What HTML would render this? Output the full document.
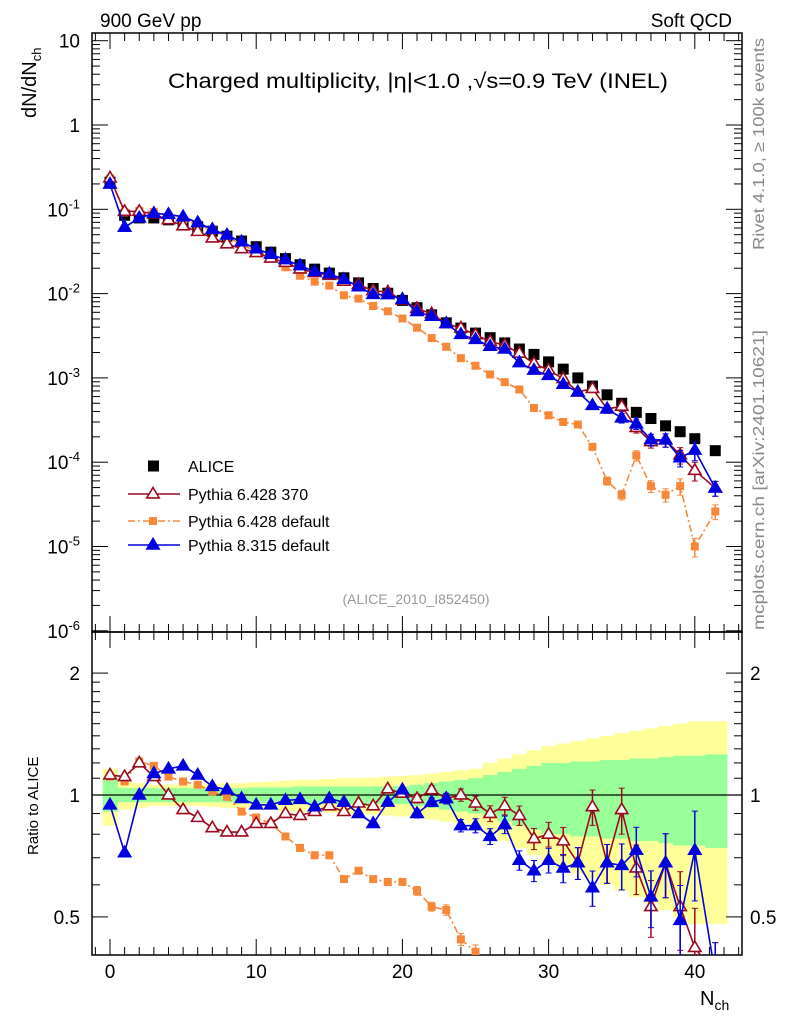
<!DOCTYPE html>
<html><head><meta charset="utf-8"><style>
html,body{margin:0;padding:0;background:#fff;width:786px;height:1024px;overflow:hidden;}
svg{display:block;font-family:"Liberation Sans",sans-serif;}
</style></head><body>
<svg id="c" width="786" height="1024" viewBox="0 0 786 1024" xmlns="http://www.w3.org/2000/svg">
<text x="100" y="27" font-size="19">900 GeV pp</text>
<text x="732" y="27" font-size="19" text-anchor="end">Soft QCD</text>
<text x="168" y="88" font-size="21" textLength="500" lengthAdjust="spacingAndGlyphs">Charged multiplicity, |η|&lt;1.0 ,√s=0.9 TeV (INEL)</text>
<text transform="translate(36,118) rotate(-90)" font-size="20">dN/dN<tspan font-size="13" dy="5">ch</tspan></text>
<text transform="translate(764,250) rotate(-90)" font-size="16" fill="#888" textLength="212" lengthAdjust="spacingAndGlyphs">Rivet 4.1.0, ≥ 100k events</text>
<text transform="translate(764,630) rotate(-90)" font-size="16" fill="#888" textLength="300" lengthAdjust="spacingAndGlyphs">mcplots.cern.ch [arXiv:2401.10621]</text>
<text x="416" y="604" font-size="14" fill="#999" text-anchor="middle">(ALICE_2010_I852450)</text>
<text transform="translate(38,855) rotate(-90)" font-size="15">Ratio to ALICE</text>
<text x="700" y="1005" font-size="20">N<tspan font-size="14" dy="5">ch</tspan></text>
<g id="g"></g>
</svg>
<script>
const nch = [0,1,2,3,4,5,6,7,8,9,10,11,12,13,14,15,16,17,18,19,20,21,22,23,24,25,26,27,28,29,30,31,32,33,34,35,36,37,38,39,40,41.4];
const alice = [0.21,0.085,0.079,0.079,0.075,0.069,0.062,0.055,0.048,0.042,0.036,0.031,0.026,0.022,0.0195,0.0175,0.0154,0.0134,0.0115,0.0101,0.0083,0.0068,0.0056,0.0045,0.0039,0.0034,0.0030,0.0026,0.0022,0.0019,0.00155,0.00127,0.0010,0.00080,0.00063,0.00050,0.00039,0.00033,0.00027,0.00023,0.00019,0.000137];
const ratio370 = [1.12,1.11,1.20,1.11,1.0,0.92,0.88,0.83,0.81,0.81,0.85,0.85,0.90,0.89,0.91,0.94,0.91,0.955,0.94,1.035,1.01,0.98,1.03,0.98,1.0,0.955,0.90,0.94,0.89,0.78,0.80,0.77,0.68,0.935,0.68,0.92,0.66,0.53,0.68,0.53,0.42,0.36];
const ratioP8 = [0.945,0.72,1.0,1.13,1.16,1.18,1.12,1.05,1.03,0.98,0.945,0.945,0.97,0.975,0.935,0.98,0.96,0.90,0.85,0.96,1.03,0.90,0.96,0.98,0.84,0.84,0.79,0.845,0.69,0.65,0.69,0.66,0.68,0.59,0.68,0.67,0.73,0.56,0.68,0.49,0.73,0.36];
const ratioDef = [1.11,1.08,1.21,1.18,1.11,1.08,1.06,1.02,0.99,0.91,0.88,0.85,0.79,0.74,0.71,0.71,0.62,0.65,0.62,0.61,0.61,0.58,0.53,0.52,0.44,0.41];
const defTail = [0.0011,0.00089,0.00073,0.00044,0.00036,0.00030,0.00028,0.000152,0.00006,0.000041,0.00012,0.000052,0.000041,0.000052,0.00001,0.000026];
const mcErr = [0.01,0.01,0.01,0.01,0.01,0.01,0.01,0.01,0.01,0.01,0.01,0.01,0.01,0.012,0.012,0.014,0.015,0.016,0.018,0.02,0.02,0.025,0.025,0.03,0.035,0.04,0.045,0.05,0.055,0.06,0.07,0.08,0.09,0.1,0.11,0.13,0.14,0.16,0.18,0.22,0.25,0.2];
const bandTot = [0.16,0.08,0.07,0.06,0.06,0.06,0.06,0.065,0.07,0.07,0.075,0.08,0.085,0.09,0.09,0.095,0.10,0.10,0.105,0.11,0.115,0.12,0.13,0.14,0.15,0.16,0.20,0.23,0.26,0.29,0.32,0.34,0.36,0.38,0.40,0.42,0.44,0.46,0.48,0.50,0.52,0.52];
const bandStat = [0.09,0.04,0.04,0.04,0.04,0.04,0.04,0.04,0.04,0.04,0.045,0.045,0.045,0.05,0.05,0.05,0.05,0.05,0.05,0.05,0.05,0.06,0.07,0.08,0.09,0.10,0.12,0.14,0.16,0.18,0.20,0.20,0.21,0.21,0.22,0.22,0.23,0.23,0.24,0.25,0.25,0.26];
const mainTicks = ["10","1","10^-1","10^-2","10^-3","10^-4","10^-5","10^-6"];
const xTicks = [0,10,20,30,40];
const ratioTicks = [2,1,0.5];

const p6def = nch.map((n,i)=> i<ratioDef.length ? alice[i]*ratioDef[i] : defTail[i-ratioDef.length]);
const p6370 = nch.map((n,i)=>alice[i]*ratio370[i]);
const p8 = nch.map((n,i)=>alice[i]*ratioP8[i]);

const L=92,R=742,T=33,MB=632,RB=955;
const X=n=>110+14.62*n;
const clampY=(y,lo,hi)=>Math.max(lo,Math.min(hi,y));
const Y=v=>clampY(125-84.3*Math.log10(v),T-20,MB+20);
const YR=r=>clampY(795-405*Math.log10(r),MB-20,RB+20);
const NS="http://www.w3.org/2000/svg";
const g=document.getElementById('g');
function mk(tag,attrs,parent){const e=document.createElementNS(NS,tag);for(const k in attrs)e.setAttribute(k,attrs[k]);(parent||g).appendChild(e);return e;}

const defs=mk('defs',{});
const c1=mk('clipPath',{id:'cm'},defs);mk('rect',{x:L,y:T,width:R-L,height:MB-T},c1);
const c2=mk('clipPath',{id:'cr'},defs);mk('rect',{x:L,y:MB,width:R-L,height:RB-MB},c2);

const bg=mk('g',{'clip-path':'url(#cr)'});


function edges(i){const lo=i===0?X(-0.5):(X(nch[i-1])+X(nch[i]))/2;const hi=i===nch.length-1?X(42.2):(X(nch[i])+X(nch[i+1]))/2;return [lo,hi];}
nch.forEach((n,i)=>{const [a,b]=edges(i);
 const y=mk('rect',{x:a,y:YR(1+bandTot[i]),width:b-a+0.5,height:YR(1-bandTot[i])-YR(1+bandTot[i]),fill:'#ffff99'},bg);
 
 });
nch.forEach((n,i)=>{const [a,b]=edges(i);
 const y=mk('rect',{x:a,y:YR(1+bandStat[i]),width:b-a+0.5,height:YR(1-bandStat[i])-YR(1+bandStat[i]),fill:'#99ff99'},bg);
 
 });
mk('line',{x1:L,x2:R,y1:YR(1),y2:YR(1),stroke:'#000','stroke-width':1.3});

mk('rect',{x:L,y:T,width:R-L,height:MB-T,fill:'none',stroke:'#000','stroke-width':1.5});
mk('rect',{x:L,y:MB,width:R-L,height:RB-MB,fill:'none',stroke:'#000','stroke-width':1.5});

for(let d=1;d>=-6;d--){
 for(let m=1;m<10;m++){const v=m*Math.pow(10,d);const y=Y(v);if(y<T||y>MB)continue;
  const len=m===1?16:8;
  mk('line',{x1:L,x2:L+len,y1:y,y2:y,stroke:'#000'});mk('line',{x1:R,x2:R-len,y1:y,y2:y,stroke:'#000'});}
}
mainTicks.forEach((t,i)=>{const y=Y(Math.pow(10,1-i));
 const tx=mk('text',{x:80,y:y+7,'font-size':19,'text-anchor':'end'});
 
 
 if(t.includes('^')){const [b,e]=t.split('^');tx.textContent=b;const s=mk('tspan',{dy:-8,'font-size':13},tx);s.textContent=e;}
 else tx.textContent=t;});
[0.5,0.6,0.7,0.8,0.9,1,1.1,1.2,1.3,1.4,1.5,1.6,1.7,1.8,1.9,2].forEach(r=>{const y=YR(r);const len=(r===0.5||r===1||r===2)?16:8;
 mk('line',{x1:L,x2:L+len,y1:y,y2:y,stroke:'#000'});mk('line',{x1:R,x2:R-len,y1:y,y2:y,stroke:'#000'});});
ratioTicks.forEach(r=>{
 const a=mk('text',{x:80,y:YR(r)+7,'font-size':19,'text-anchor':'end'});a.textContent=r;
 
 
 const b=mk('text',{x:750,y:YR(r)+7,'font-size':19});b.textContent=r;
 
 });
for(let n=-1;n<=43;n++){const x=X(n);const len=n%10===0?16:8;
 [[T,1],[MB,-1],[MB,1],[RB,-1]].forEach(([y0,s])=>mk('line',{x1:x,x2:x,y1:y0,y2:y0+s*len,stroke:'#000'}));}
xTicks.forEach(n=>{const t=mk('text',{x:X(n),y:978,'font-size':19,'text-anchor':'middle'});t.textContent=n;
 
 });

function tri(x,y,s,fill,stroke,parent){return mk('polygon',{points:`${x},${y-s} ${x-s*0.95},${y+s*0.6} ${x+s*0.95},${y+s*0.6}`,fill:fill,stroke:stroke,'stroke-width':1.6},parent);}
function series(vals,fy,clip,color,dash,marker,name){
 const grp=mk('g',{'clip-path':`url(#${clip})`});
 
 
 const pts=nch.map((n,i)=>[X(n),fy(vals[i])]);
 if(color)mk('polyline',{points:pts.map(p=>p.join(',')).join(' '),fill:'none',stroke:color,'stroke-width':1.6,'stroke-dasharray':dash||'none'},grp);
 pts.forEach((p,i)=>{
  if(marker!=='sq'){const e=mcErr[i];const y1=fy(vals[i]*(1+e)),y2=fy(Math.max(vals[i]*(1-e),1e-9));
   mk('line',{x1:p[0],x2:p[0],y1:y1,y2:y2,stroke:color,'stroke-width':1.5},grp);
   if(y2-y1>8){mk('line',{x1:p[0]-3,x2:p[0]+3,y1:y1,y2:y1,stroke:color},grp);mk('line',{x1:p[0]-3,x2:p[0]+3,y1:y2,y2:y2,stroke:color},grp);}}
  let m;
  if(marker==='sq')m=mk('rect',{x:p[0]-5.5,y:p[1]-5.5,width:11,height:11,fill:'#000'},grp);
  else if(marker==='osq')m=mk('rect',{x:p[0]-4,y:p[1]-4,width:8,height:8,fill:color},grp);
  else if(marker==='otri')m=tri(p[0],p[1],6.5,'#fff',color,grp);
  else m=tri(p[0],p[1],6.5,color,color,grp);
  
  });
}
const RED='#9b0a1e',ORG='#f7883a',BLU='#0000e0';
series(alice,Y,'cm',null,null,'sq','alice-series');
series(p6def,Y,'cm',ORG,'7,3,2,3','osq','pythia6-default-series');
series(p6370,Y,'cm',RED,null,'otri','pythia6-370-series');
series(p8,Y,'cm',BLU,null,'tri','pythia8-series');
series(ratioDef.concat(defTail.map((v,i)=>v/alice[ratioDef.length+i])),YR,'cr',ORG,'7,3,2,3','osq','ratio-pythia6-default');
series(ratio370,YR,'cr',RED,null,'otri','ratio-pythia6-370');
series(ratioP8,YR,'cr',BLU,null,'tri','ratio-pythia8');

const lg=mk('g',{});


const items=[['ALICE',466,null,'sq'],['Pythia 6.428 370',494,RED,'otri'],['Pythia 6.428 default',521,ORG,'osq'],['Pythia 8.315 default',545,BLU,'tri']];
items.forEach(([t,y,c,m])=>{const e=mk('g',{},lg);
 
 
 if(c)mk('line',{x1:128,x2:180,y1:y,y2:y,stroke:c,'stroke-width':1.6,'stroke-dasharray':m==='osq'?'7,3,2,3':'none'},e);
 if(m==='sq')mk('rect',{x:148,y:y-5.5,width:11,height:11,fill:'#000'},e);
 else if(m==='osq')mk('rect',{x:149,y:y-4,width:8,height:8,fill:c},e);
 else if(m==='otri')tri(153,y,6.5,'#fff',c,e);else tri(153,y,6.5,c,c,e);
 const tx=mk('text',{x:188,y:y+6,'font-size':16},e);tx.textContent=t;});
</script>
</body></html>
